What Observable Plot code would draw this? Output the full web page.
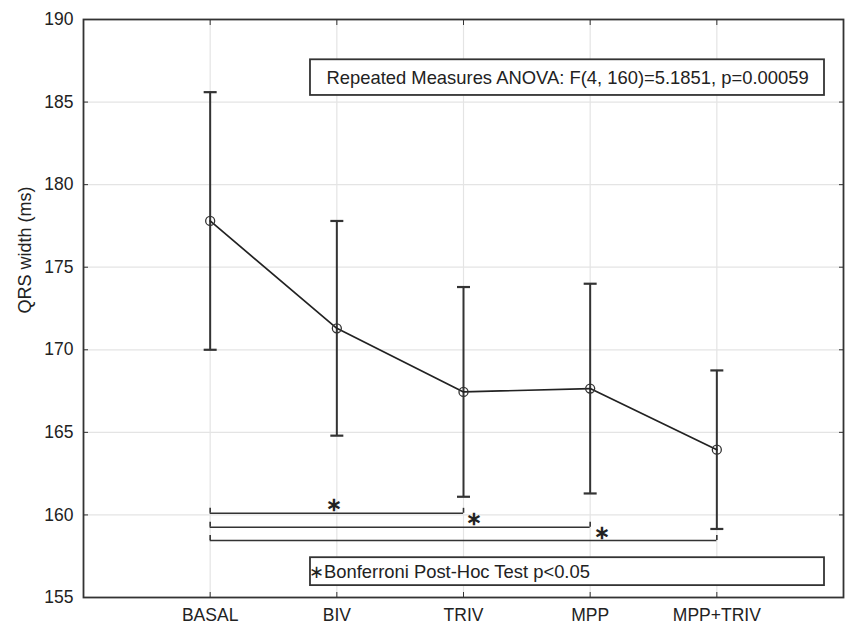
<!DOCTYPE html>
<html><head><meta charset="utf-8">
<script src="https://cdn.jsdelivr.net/npm/d3@7"></script>
<script src="https://cdn.jsdelivr.net/npm/@observablehq/plot@0.6"></script>
<style>
body{margin:0;background:#fff;}
#chart svg{font-family:"Liberation Sans",Arial,sans-serif;display:block;}
</style>
</head><body><div id="chart"></div>
<script>
const categories = ["BASAL", "BIV", "TRIV", "MPP", "MPP+TRIV"];
const means = [177.8, 171.3, 167.45, 167.65, 163.95];
const upper = [185.6, 177.8, 173.8, 174.0, 168.75];
const lower = [170.0, 164.8, 161.1, 161.3, 159.15];
const yTicks = [155, 160, 165, 170, 175, 180, 185, 190];
const bracketFrom = [0, 0, 0];
const bracketTo = [2, 3, 4];
const bracketLevel = [160.1, 159.25, 158.45];
const starX = [0.98, 2.08, 3.09];
const starY = [160.6, 159.73, 158.92];
const anovaText = "Repeated Measures ANOVA: F(4, 160)=5.1851, p=0.00059";
const posthocText = "\u2217Bonferroni Post-Hoc Test p<0.05";
const yLabel = "QRS width (ms)";

const rows = categories.map((c, i) => ({i, c, mean: means[i], hi: upper[i], lo: lower[i]}));
const brackets = bracketLevel.map((l, k) => ({from: bracketFrom[k], to: bracketTo[k], level: l}));
const bracketEnds = brackets.flatMap(b => [{x: b.from, y1: b.level, y2: b.level + 0.3}, {x: b.to, y1: b.level, y2: b.level + 0.3}]);
const stars = starX.map((x, k) => ({x, y: starY[k]}));
const anovaBox = [{x1: 0.792, x2: 4.85, y1: 185.40, y2: 187.56, tx: 0.918, ty: 186.48}];
const posthocBox = [{x1: 0.792, x2: 4.85, y1: 155.72, y2: 157.41, tx: 0.78, ty: 156.56}];

const cap = {draw(ctx) { ctx.moveTo(-6.5, 0); ctx.lineTo(6.5, 0); }};
const ink = "#333";

const chart = Plot.plot({
  width: 845, height: 625,
  marginLeft: 83, marginRight: 2, marginTop: 19, marginBottom: 28,
  style: {fontSize: "17.5px", color: "#222", background: "white"},
  x: {domain: [-1, 5]},
  y: {domain: [155, 190]},
  marks: [
    Plot.gridY(yTicks, {stroke: "#e4e4e4", strokeOpacity: 1, strokeWidth: 1.2}),
    Plot.gridX(d3.range(categories.length), {stroke: "#e4e4e4", strokeOpacity: 1, strokeWidth: 1.2}),
    Plot.ruleY(brackets, {y: "level", x1: "from", x2: "to", stroke: ink, strokeWidth: 1.6}),
    Plot.ruleX(bracketEnds, {x: "x", y1: "y1", y2: "y2", stroke: ink, strokeWidth: 1.6}),
    Plot.ruleX(rows, {x: "i", y1: "lo", y2: "hi", stroke: ink, strokeWidth: 2}),
    Plot.dot(rows, {x: "i", y: "hi", symbol: cap, stroke: ink, strokeWidth: 2.2}),
    Plot.dot(rows, {x: "i", y: "lo", symbol: cap, stroke: ink, strokeWidth: 2.2}),
    Plot.line(rows, {x: "i", y: "mean", stroke: "#222", strokeWidth: 1.7}),
    Plot.dot(rows, {x: "i", y: "mean", r: 4.5, stroke: "#333", strokeWidth: 1.3, fill: "none"}),
    Plot.text(stars, {x: "x", y: "y", text: () => "\u2217", fontSize: 19, fontWeight: "bold", fill: "#222"}),
    Plot.rect(anovaBox, {x1: "x1", x2: "x2", y1: "y1", y2: "y2", fill: "white", stroke: ink, strokeWidth: 1.8}),
    Plot.text(anovaBox, {x: "tx", y: "ty", text: () => anovaText, fontSize: 18.4, textAnchor: "start", fill: "#222"}),
    Plot.rect(posthocBox, {x1: "x1", x2: "x2", y1: "y1", y2: "y2", fill: "white", stroke: ink, strokeWidth: 1.8}),
    Plot.text(posthocBox, {x: "tx", y: "ty", text: () => posthocText, fontSize: 18.4, textAnchor: "start", fill: "#222"}),
    Plot.frame({stroke: ink, strokeWidth: 1.8}),
    Plot.axisY(yTicks, {anchor: "left", tickSize: -5, tickPadding: 15, label: null, stroke: ink}),
    Plot.axisY(yTicks, {anchor: "right", tickSize: -5, text: null, label: null, stroke: ink}),
    Plot.axisX(d3.range(categories.length), {anchor: "bottom", tickSize: -5, tickPadding: 16, label: null, tickFormat: i => categories[i], stroke: ink}),
    Plot.axisX(d3.range(categories.length), {anchor: "top", tickSize: -5, text: null, label: null, stroke: ink}),
    Plot.text([yLabel], {text: d => d, frameAnchor: "left", rotate: -90, dx: -58, dy: 5, fontSize: 18, fill: "#222"})
  ]
});
document.getElementById("chart").appendChild(chart);
</script>
</body></html>
